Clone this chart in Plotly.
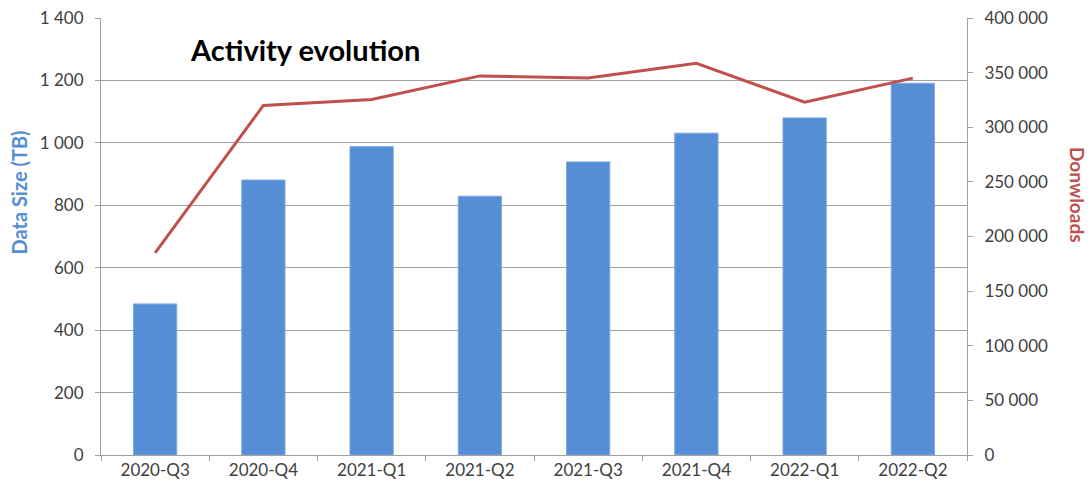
import plotly.graph_objects as go

quarters = ["2020-Q3", "2020-Q4", "2021-Q1", "2021-Q2", "2021-Q3", "2021-Q4", "2022-Q1", "2022-Q2"]
data_size_tb = [484, 881, 988, 829, 939, 1031, 1080, 1191]
downloads = [185000, 320000, 325500, 347000, 345000, 358500, 323000, 345000]

axis_font = dict(family="Lato, Open Sans, sans-serif", size=17, color="#404040")

fig = go.Figure()

fig.add_trace(go.Bar(
    x=quarters, y=data_size_tb,
    marker=dict(color="#558ED5", line=dict(color="#7FAAE0", width=1)),
    width=0.4,
    name="Data Size (TB)",
))

fig.add_trace(go.Scatter(
    x=quarters, y=downloads,
    mode="lines",
    line=dict(color="#C0504D", width=3),
    yaxis="y2",
    name="Downloads",
))

fig.update_layout(
    width=1091, height=489,
    margin=dict(l=101, r=124, t=18, b=34),
    plot_bgcolor="white",
    paper_bgcolor="white",
    showlegend=False,
    separators=". ",
    xaxis=dict(
        showgrid=False,
        showline=True, linecolor="#a0a0a0", linewidth=1,
        ticks="outside", ticklen=5, tickcolor="#a0a0a0",
        tickson="boundaries",
        tickfont=axis_font,
        automargin=False,
    ),
    yaxis=dict(
        range=[0, 1400], dtick=200,
        tickformat=",d",
        showgrid=True, gridcolor="#a0a0a0", gridwidth=1,
        showline=True, linecolor="#a0a0a0", linewidth=1,
        ticks="outside", ticklen=5, tickcolor="#a0a0a0",
        ticklabelstandoff=8,
        ticklabeloverflow="allow",
        tickfont=axis_font,
        zeroline=False,
        automargin=False,
    ),
    yaxis2=dict(
        range=[0, 400000], dtick=50000,
        tickformat=",d",
        overlaying="y", side="right",
        showgrid=False,
        showline=True, linecolor="#a0a0a0", linewidth=1,
        ticks="outside", ticklen=5, tickcolor="#a0a0a0",
        ticklabelstandoff=8,
        ticklabeloverflow="allow",
        tickfont=axis_font,
        zeroline=False,
        automargin=False,
    ),
    annotations=[
        dict(text="<b>Activity evolution</b>", xref="paper", yref="paper",
             x=0.1, y=0.927, xanchor="left", yanchor="middle", showarrow=False,
             font=dict(family="Lato, Open Sans, sans-serif", size=29, color="black")),
        dict(text="<b>Data Size (TB)</b>", xref="paper", yref="paper",
             x=-0.095, y=0.6, xanchor="center", yanchor="middle", showarrow=False,
             textangle=-90,
             font=dict(family="Lato, Open Sans, sans-serif", size=20, color="#558ED5")),
        dict(text="<b>Donwloads</b>", xref="paper", yref="paper",
             x=1.127, y=0.595, xanchor="center", yanchor="middle", showarrow=False,
             textangle=90,
             font=dict(family="Lato, Open Sans, sans-serif", size=19, color="#C0504D")),
    ],
)

# drop the default page margin so the figure sits at the window's corner
fig.write_html(
    "out.html",
    config={"displayModeBar": False},
    post_script="document.body.style.margin='0';document.body.style.overflow='hidden';",
)
